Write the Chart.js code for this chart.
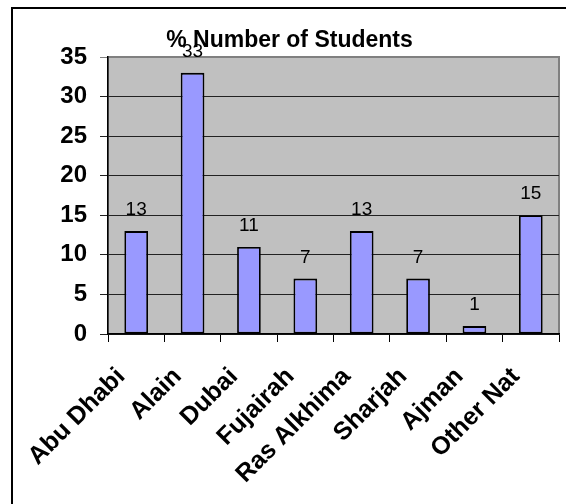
<!DOCTYPE html>
<html>
<head>
<meta charset="utf-8">
<title>% Number of Students</title>
<script src="https://cdn.jsdelivr.net/npm/chart.js@4"></script>
<style>
  html, body { margin: 0; padding: 0; background: #fff; }
  #wrap { width: 566px; height: 504px; }
</style>
</head>
<body>
<div id="wrap"><canvas id="chart" width="566" height="504"></canvas></div>
<script>
// Students by emirate, in percent
const emirates = ['Abu Dhabi', 'Alain', 'Dubai', 'Fujairah', 'Ras Alkhima', 'Sharjah', 'Ajman', 'Other Nat'];
const percents = [13, 33, 11, 7, 13, 7, 1, 15];
const yTicks = [0, 5, 10, 15, 20, 25, 30, 35];

const FONT = '"Liberation Sans", Arial, sans-serif';

// Frame lines plus the grey plot background
const backdrop = {
    id: 'backdrop',
    beforeDraw(chart) {
        const ctx = chart.ctx;
        const a = chart.chartArea;
        ctx.save();
        ctx.fillStyle = '#fff';
        ctx.fillRect(0, 0, chart.width, chart.height);
        ctx.strokeStyle = '#000';
        ctx.lineWidth = 2;
        ctx.beginPath();
        ctx.moveTo(12, chart.height);
        ctx.lineTo(12, 8);
        ctx.lineTo(chart.width, 8);
        ctx.stroke();
        ctx.fillStyle = '#c0c0c0';
        ctx.fillRect(a.left, a.top, a.right - a.left, a.bottom - a.top);
        ctx.strokeStyle = '#808080';
        ctx.lineWidth = 2;
        ctx.strokeRect(a.left, a.top, a.right - a.left, a.bottom - a.top);
        ctx.restore();
    }
};

// Value above each bar
const valueLabels = {
    id: 'valueLabels',
    afterDatasetsDraw(chart) {
        const ctx = chart.ctx;
        const meta = chart.getDatasetMeta(0);
        ctx.save();
        ctx.font = '19px ' + FONT;
        ctx.fillStyle = '#000';
        ctx.textAlign = 'center';
        ctx.textBaseline = 'alphabetic';
        meta.data.forEach((bar, i) => {
            ctx.fillText(String(percents[i]), bar.x, bar.y - 16);
        });
        ctx.restore();
    }
};

new Chart(document.getElementById('chart'), {
    type: 'bar',
    data: {
        labels: emirates,
        datasets: [{
            data: percents,
            backgroundColor: '#9999ff',
            borderColor: '#000',
            borderWidth: 1.8,
            borderSkipped: false,
            categoryPercentage: 1,
            barPercentage: 0.42
        }]
    },
    options: {
        responsive: false,
        animation: false,
        layout: { padding: { left: 20, right: 7, top: 0, bottom: 0 } },
        plugins: {
            legend: { display: false },
            tooltip: { enabled: false },
            title: {
                display: true,
                text: '% Number of Students',
                color: '#000',
                font: { family: FONT, size: 23, weight: 'bold' },
                padding: { top: 27, bottom: 2.4 }
            }
        },
        scales: {
            x: {
                afterFit(scale) {
                    scale.height = 170;
                    scale.paddingLeft = 0;
                    scale.paddingRight = 0;
                },
                grid: {
                    display: true,
                    drawOnChartArea: false,
                    drawTicks: true,
                    tickLength: 8,
                    color: '#000',
                    offset: true
                },
                border: { color: '#000', width: 1.5 },
                ticks: {
                    color: '#000',
                    font: { family: FONT, size: 25, weight: 'bold' },
                    minRotation: 45,
                    maxRotation: 45,
                    padding: 20,
                    labelOffset: -15,
                    autoSkip: false
                }
            },
            y: {
                min: 0,
                max: 35,
                afterFit(scale) { scale.width = 88; },
                afterBuildTicks(scale) { scale.ticks = yTicks.map(v => ({ value: v })); },
                grid: {
                    color: ctx => ctx.tick && ctx.tick.value === 35 ? '#808080' : '#222',
                    lineWidth: 1,
                    tickLength: 8
                },
                border: { color: '#000', width: 1.5 },
                ticks: {
                    color: '#000',
                    font: { family: FONT, size: 24, weight: 'bold' },
                    padding: 13
                }
            }
        }
    },
    plugins: [backdrop, valueLabels]
});
</script>
</body>
</html>
